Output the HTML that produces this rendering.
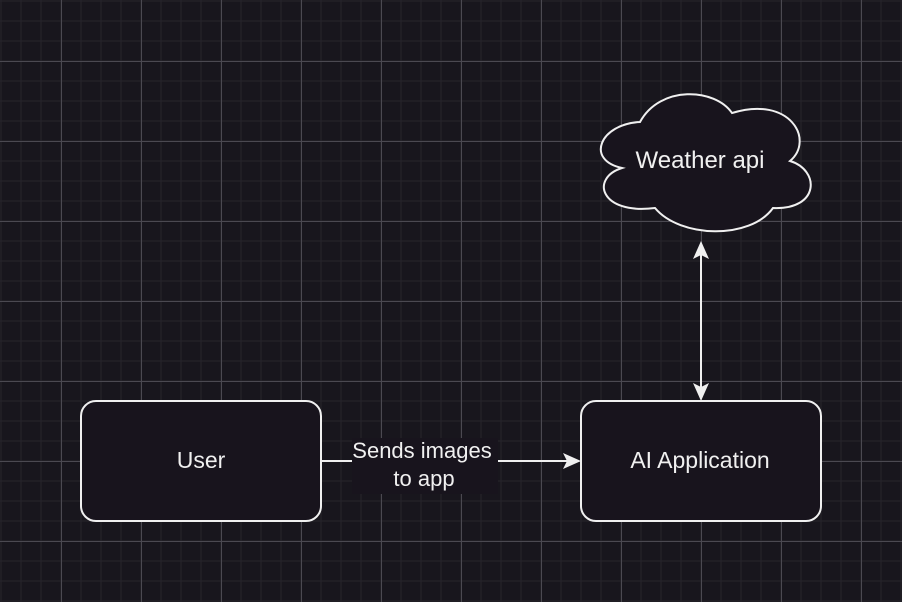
<!DOCTYPE html>
<html><head><style>
html,body{margin:0;padding:0;background:#18161d;}
svg{display:block}
text{font-family:"Liberation Sans",Arial,sans-serif;fill:#f0f0f0}
</style></head><body>
<svg width="902" height="602" viewBox="0 0 902 602" xmlns="http://www.w3.org/2000/svg">
<defs>
<pattern id="minor" x="0.5" y="0.5" width="20" height="20" patternUnits="userSpaceOnUse">
<path d="M0 0V20M0 0H20" stroke="#27252c" stroke-width="2" fill="none"/>
</pattern>
<pattern id="major" x="61" y="61" width="80" height="80" patternUnits="userSpaceOnUse">
<path d="M0.5 0V80M0 0.5H80" stroke="#4b4951" stroke-width="1" fill="none"/>
</pattern>
</defs>
<rect width="902" height="602" fill="#18161d"/>
<rect width="902" height="602" fill="url(#minor)"/>
<rect width="902" height="602" fill="url(#major)"/>

<rect x="81" y="401" width="240" height="120" rx="15" fill="#18141d" stroke="#f0f0f0" stroke-width="2"/>
<text x="201" y="468" font-size="23" text-anchor="middle">User</text>

<rect x="581" y="401" width="240" height="120" rx="15" fill="#18141d" stroke="#f0f0f0" stroke-width="2"/>
<text x="700" y="468" font-size="23" text-anchor="middle">AI Application</text>

<path d="M640 122 C600 124 585 160 622 168 C590 178 600 215 655 208 C680 238 750 240 773 208 C820 210 820 170 790 161 C815 140 790 95 732 113 C715 88 660 85 640 122 Z" fill="#18141d" stroke="#f0f0f0" stroke-width="2"/>
<text x="700" y="168" font-size="24" text-anchor="middle">Weather api</text>

<line x1="321" y1="461" x2="572" y2="461" stroke="#f0f0f0" stroke-width="2"/>
<path d="M581 461 L563 469 L567 461 L563 453 Z" fill="#f0f0f0"/>
<rect x="352" y="438" width="146" height="56" fill="#18141d"/>
<text x="422" y="458" font-size="22" text-anchor="middle">Sends images</text>
<text x="424" y="486" font-size="22" text-anchor="middle">to app</text>

<line x1="701" y1="250" x2="701" y2="392" stroke="#f0f0f0" stroke-width="2"/>
<path d="M701 241 L709 259 L701 255 L693 259 Z" fill="#f0f0f0"/>
<path d="M701 401 L709 383 L701 387 L693 383 Z" fill="#f0f0f0"/>
</svg>
</body></html>
